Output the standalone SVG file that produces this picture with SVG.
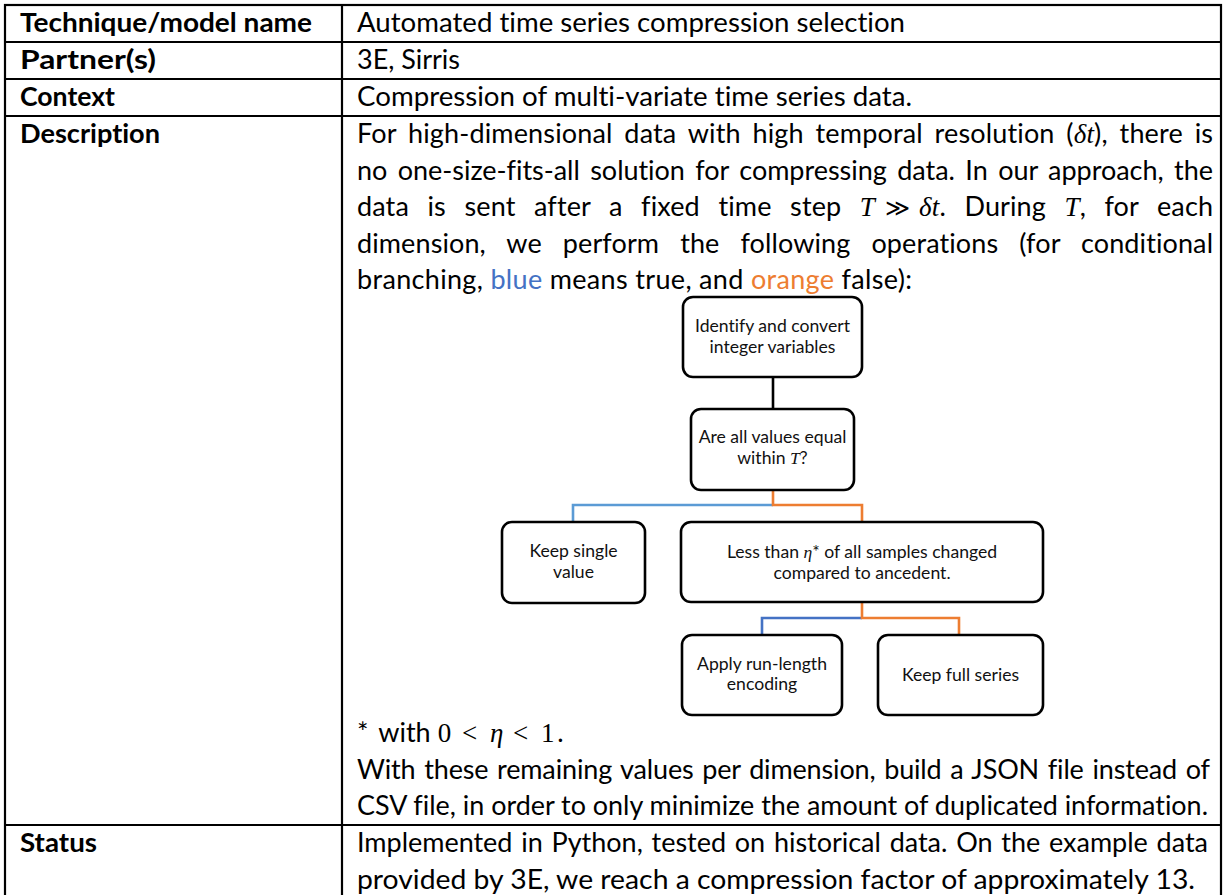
<svg xmlns="http://www.w3.org/2000/svg" width="1224" height="895" viewBox="0 0 1224 895">
<style>
text{font-variant-ligatures:none;font-feature-settings:"liga" 0,"clig" 0}
.t{font-family:Lato,'Liberation Sans',sans-serif;font-size:27px;fill:#000}
.b{font-weight:bold}
.m{font-family:'Liberation Serif','DejaVu Serif',serif;font-style:italic}
.mu{font-family:'Liberation Serif','DejaVu Serif',serif;font-style:normal}
.rel{font-family:'DejaVu Serif','Liberation Serif',serif;font-style:normal;font-size:24px}
.grid{stroke:#000;stroke-width:2.2;fill:none}
.box{fill:#fff;stroke:#000;stroke-width:2.6}
.bt{font-family:Lato,'Liberation Sans',sans-serif;font-size:17.6px;text-anchor:middle;fill:#111}
.blue{fill:#4472C4}
.orange{fill:#ED7D31}
.c{fill:none;stroke-width:2.6}
</style>

<g id="table">
  <rect class="grid" x="5" y="5" width="1216" height="900"/>
  <line class="grid" x1="342" y1="5" x2="342" y2="900"/>
  <line class="grid" x1="5" y1="42" x2="1221" y2="42"/>
  <line class="grid" x1="5" y1="79" x2="1221" y2="79"/>
  <line class="grid" x1="5" y1="116" x2="1221" y2="116"/>
  <line class="grid" x1="5" y1="825" x2="1221" y2="825"/>
</g>

<g id="labels">
  <text class="t b" x="20" y="32" textLength="292" lengthAdjust="spacingAndGlyphs">Technique/model name</text>
  <text class="t b" x="20" y="69" textLength="136" lengthAdjust="spacingAndGlyphs">Partner(s)</text>
  <text class="t b" x="20" y="106" textLength="95" lengthAdjust="spacingAndGlyphs">Context</text>
  <text class="t b" x="20" y="143" textLength="140" lengthAdjust="spacingAndGlyphs">Description</text>
  <text class="t b" x="20" y="852" textLength="77" lengthAdjust="spacingAndGlyphs">Status</text>
</g>

<g id="values">
  <text class="t" x="357" y="32" textLength="548" lengthAdjust="spacingAndGlyphs">Automated time series compression selection</text>
  <text class="t" x="357" y="69" textLength="103" lengthAdjust="spacingAndGlyphs">3E, Sirris</text>
  <text class="t" x="357" y="106" textLength="555" lengthAdjust="spacingAndGlyphs">Compression of multi-variate time series data.</text>

  <text class="t" x="357" y="143" textLength="856" lengthAdjust="spacing" style="word-spacing:4.7px">For high-dimensional data with high temporal resolution (<tspan class="m">δt</tspan>), there is</text>

  <text class="t" x="357" y="179.6" textLength="856" lengthAdjust="spacing" style="word-spacing:3.6px">no one-size-fits-all solution for compressing data. In our approach, the</text>

  <text class="t" x="357" y="216.2" textLength="856" lengthAdjust="spacing" style="word-spacing:11.5px">data is sent after a fixed time step <tspan class="m">T</tspan><tspan class="rel" dx="10">≫</tspan><tspan class="m" dx="9">δt</tspan>. During <tspan class="m">T</tspan>, for each</text>

  <text class="t" x="357" y="252.8" textLength="856" lengthAdjust="spacing" style="word-spacing:14px">dimension, we perform the following operations (for conditional</text>

  <text class="t" x="357" y="289.4" textLength="555" lengthAdjust="spacing">branching, <tspan class="blue">blue</tspan> means true, and <tspan class="orange">orange</tspan> false):</text>

  <text class="t" y="742"><tspan x="357">*</tspan><tspan x="378.2">with</tspan><tspan class="mu" x="437.7">0</tspan><tspan class="mu" x="462.1">&lt;</tspan><tspan class="m" x="490.1">η</tspan><tspan class="mu" x="513.1">&lt;</tspan><tspan class="mu" x="541.1">1</tspan><tspan x="557.3">.</tspan></text>

  <text class="t" x="357" y="778.6" textLength="853" lengthAdjust="spacing" style="word-spacing:1.9px">With these remaining values per dimension, build a JSON file instead of</text>

  <text class="t" x="357" y="815.2" textLength="851" lengthAdjust="spacingAndGlyphs">CSV file, in order to only minimize the amount of duplicated information.</text>

  <text class="t" x="357" y="852" textLength="851" lengthAdjust="spacing" style="word-spacing:1.9px">Implemented in Python, tested on historical data. On the example data</text>

  <text class="t" x="357" y="888.6" textLength="838" lengthAdjust="spacingAndGlyphs">provided by 3E, we reach a compression factor of approximately 13.</text>
</g>

<g id="connectors">
  <path class="c" stroke="#000" d="M773,377 V409"/>
  <path class="c" stroke="#5B9BD5" d="M773,505 H573 V522"/>
  <path class="c" stroke="#ED7D31" d="M773,490 V505 H862 V522"/>
  <path class="c" stroke="#4472C4" d="M862,618 H762 V635"/>
  <path class="c" stroke="#ED7D31" d="M862,602 V618 H959 V635"/>
</g>

<g id="n-identify">
  <rect class="box" x="683" y="297" width="179" height="80" rx="10"/>
  <text class="bt" x="772.5" y="332">Identify and convert</text>
  <text class="bt" x="772.5" y="353">integer variables</text>
</g>

<g id="n-equal">
  <rect class="box" x="691" y="409" width="163" height="81" rx="10"/>
  <text class="bt" x="772.5" y="443">Are all values equal</text>
  <text class="bt" x="772.5" y="464">within <tspan class="m">T</tspan>?</text>
</g>

<g id="n-single">
  <rect class="box" x="502" y="522" width="143" height="81" rx="10"/>
  <text class="bt" x="573.5" y="557">Keep single</text>
  <text class="bt" x="573.5" y="578">value</text>
</g>

<g id="n-lessthan">
  <rect class="box" x="681" y="522" width="362" height="80" rx="10"/>
  <text class="bt" x="862" y="558">Less than <tspan class="m">η</tspan>* of all samples changed</text>
  <text class="bt" x="862" y="579">compared to ancedent.</text>
</g>

<g id="n-rle">
  <rect class="box" x="682" y="635" width="160" height="80" rx="10"/>
  <text class="bt" x="762" y="670">Apply run-length</text>
  <text class="bt" x="762" y="690">encoding</text>
</g>

<g id="n-full">
  <rect class="box" x="878" y="635" width="165" height="80" rx="10"/>
  <text class="bt" x="960.5" y="681">Keep full series</text>
</g>
</svg>
